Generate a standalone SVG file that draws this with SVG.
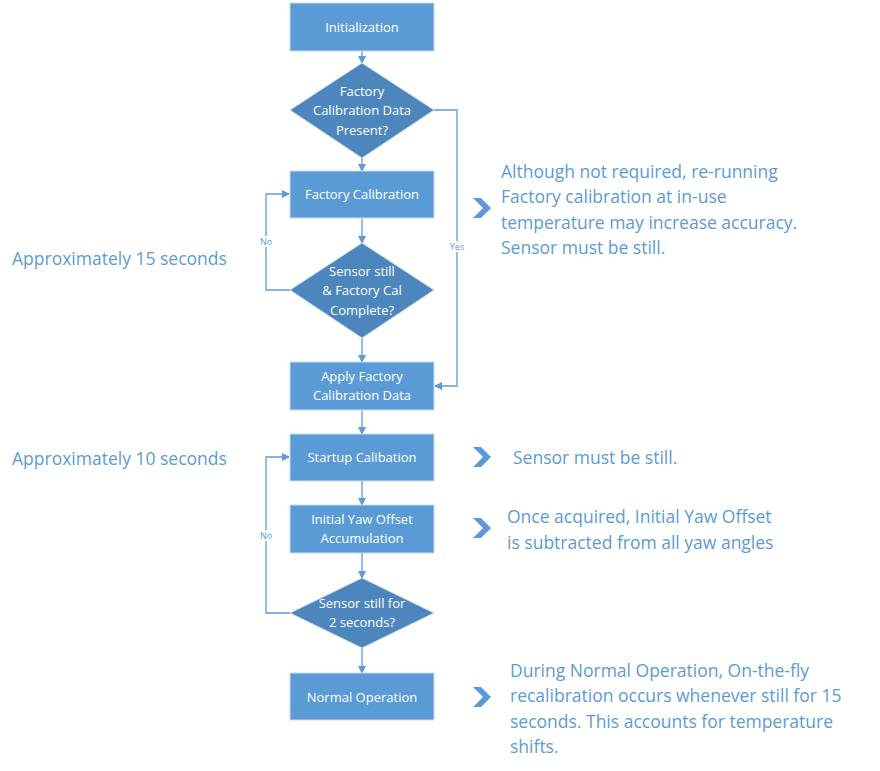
<svg xmlns="http://www.w3.org/2000/svg" width="880" height="771" viewBox="0 0 880 771">
<style>
.box{fill:#5b9bd5;stroke:#c9dcef;stroke-width:1}
.dia{fill:#4d86bd;stroke:#c9dcef;stroke-width:1}
.t{font-family:"Open Sans","Liberation Sans",sans-serif;font-size:13px;fill:#fff;text-anchor:middle}
.side{font-family:"Open Sans","Liberation Sans",sans-serif;font-size:17.5px;fill:#5b9bd5}
.lbl{font-family:"Open Sans","Liberation Sans",sans-serif;font-size:9px;fill:#5b9bd5;text-anchor:middle}
.c{fill:none;stroke:#5b9bd5;stroke-width:1.3;marker-end:url(#a)}
.chev{fill:#5b9bd5}
</style>
<defs>
<marker id="a" markerWidth="8" markerHeight="8" refX="7" refY="4" orient="auto" markerUnits="userSpaceOnUse"><path d="M0,0 L8,4 L0,8 Z" fill="#5b9bd5"/></marker>
<path id="ch" d="M0,0 h8 l10,10 l-10,10 h-8 l10,-10 Z"/>
</defs>
<g id="connectors">
<path class="c" d="M362,51 V63"/>
<path class="c" d="M362,158 V171"/>
<path class="c" d="M362,218 V243"/>
<path class="c" d="M362,338 V362"/>
<path class="c" d="M362,410 V434"/>
<path class="c" d="M362,481 V505"/>
<path class="c" d="M362,553 V578"/>
<path class="c" d="M362,648 V673"/>
<path class="c" d="M434,110 H457 V386 H435"/>
<path class="c" d="M290,290 H266 V194 H289"/>
<path class="c" d="M290,613 H266 V457 H289"/>
<text class="lbl" x="457" y="250" style="paint-order:stroke;stroke:#fff;stroke-width:4">Yes</text>
<text class="lbl" x="266" y="245" style="paint-order:stroke;stroke:#fff;stroke-width:4">No</text>
<text class="lbl" x="266" y="539" style="paint-order:stroke;stroke:#fff;stroke-width:4">No</text>
</g>
<g id="n1"><rect class="box" x="290" y="3" width="144" height="48"/><text class="t" x="362" y="32">Initialization</text></g>
<g id="n2"><polygon class="dia" points="362,63 434,110 362,158 290,110"/><text class="t" x="362" y="96">Factory</text><text class="t" x="362" y="115">Calibration Data</text><text class="t" x="362" y="135">Present?</text></g>
<g id="n3"><rect class="box" x="290" y="171" width="144" height="47"/><text class="t" x="362" y="199">Factory Calibration</text></g>
<g id="n4"><polygon class="dia" points="362,243 434,290 362,338 290,290"/><text class="t" x="362" y="276">Sensor still</text><text class="t" x="362" y="295">&amp; Factory Cal</text><text class="t" x="362" y="315">Complete?</text></g>
<g id="n5"><rect class="box" x="290" y="362" width="144" height="48"/><text class="t" x="362" y="381">Apply Factory</text><text class="t" x="362" y="400">Calibration Data</text></g>
<g id="n6"><rect class="box" x="290" y="434" width="144" height="47"/><text class="t" x="362" y="462">Startup Calibation</text></g>
<g id="n7"><rect class="box" x="290" y="505" width="144" height="48"/><text class="t" x="362" y="524">Initial Yaw Offset</text><text class="t" x="362" y="543">Accumulation</text></g>
<g id="n8"><polygon class="dia" points="362,578 434,613 362,648 290,613"/><text class="t" x="362" y="608">Sensor still for</text><text class="t" x="362" y="627">2 seconds?</text></g>
<g id="n9"><rect class="box" x="290" y="673" width="144" height="47"/><text class="t" x="362" y="702">Normal Operation</text></g>
<g id="notes">
<text class="side" x="12" y="265">Approximately 15 seconds</text>
<text class="side" x="12" y="465">Approximately 10 seconds</text>
<use href="#ch" class="chev" x="473" y="198"/>
<text class="side" x="501" y="178">Although not required, re-running</text>
<text class="side" x="501" y="203">Factory calibration at in-use</text>
<text class="side" x="501" y="229">temperature may increase accuracy.</text>
<text class="side" x="501" y="254">Sensor must be still.</text>
<use href="#ch" class="chev" x="473" y="447"/>
<text class="side" x="513" y="464">Sensor must be still.</text>
<use href="#ch" class="chev" x="473" y="518"/>
<text class="side" x="507" y="523">Once acquired, Initial Yaw Offset</text>
<text class="side" x="507" y="549">is subtracted from all yaw angles</text>
<use href="#ch" class="chev" x="473" y="687"/>
<text class="side" x="510" y="677">During Normal Operation, On-the-fly</text>
<text class="side" x="510" y="702">recalibration occurs whenever still for 15</text>
<text class="side" x="510" y="728">seconds.  This accounts for temperature</text>
<text class="side" x="510" y="753">shifts.</text>
</g>
</svg>
